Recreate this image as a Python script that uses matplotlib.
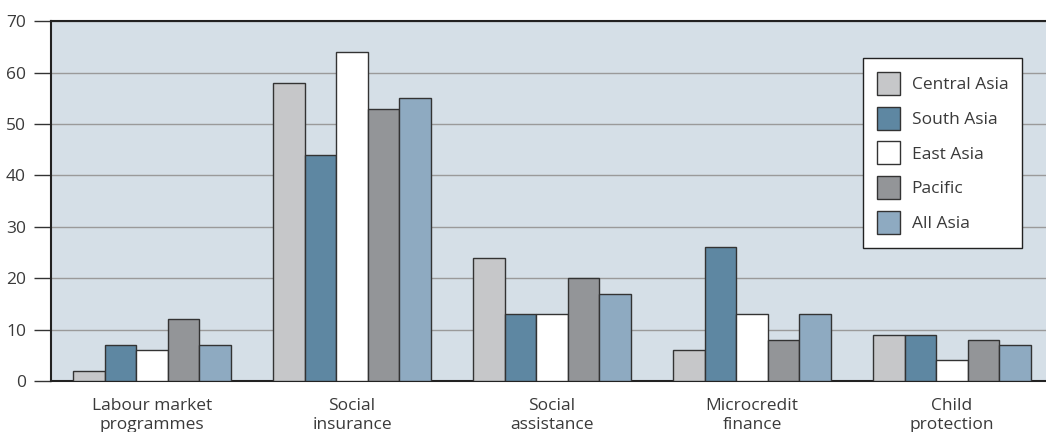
import numpy as np
import matplotlib
matplotlib.use("Agg")
from matplotlib import pyplot as plt

plt.rcParams['font.family'] = ['Open Sans', 'DejaVu Sans']

categories = ["Labour market\nprogrammes", "Social\ninsurance", "Social\nassistance",
              "Microcredit\nfinance", "Child\nprotection"]
regions = ["Central Asia", "South Asia", "East Asia", "Pacific", "All Asia"]
central_asia = [2, 58, 24, 6, 9]
south_asia = [7, 44, 13, 26, 9]
east_asia = [6, 64, 13, 13, 4]
pacific = [12, 53, 20, 8, 8]
all_asia = [7, 55, 17, 13, 7]

series = [central_asia, south_asia, east_asia, pacific, all_asia]
colors = ["#c6c7c9", "#5e87a2", "#ffffff", "#939598", "#8eaac1"]
txt = "#3a3a3a"

fig = plt.figure(figsize=(10.46, 4.32), dpi=100)
ax = fig.add_axes([0.0488, 0.118, 0.9512, 0.833])
ax.set_facecolor("#d5dfe7")

x = np.arange(len(categories))
w = 0.158
for i, (vals, c, name) in enumerate(zip(series, colors, regions)):
    ax.bar(x + (i - 2) * w, vals, w, color=c, edgecolor="#333333",
           linewidth=1, label=name, zorder=3)

ax.set_ylim(0, 70)
ax.set_xlim(-0.505, 4.47)
ax.set_yticks(range(0, 71, 10))
ax.yaxis.grid(True, color="#9a9a9a", linewidth=1, zorder=0)
ax.set_xticks(x)
ax.set_xticklabels(categories, fontsize=12.5, color=txt, linespacing=1.3)
ax.tick_params(axis="x", length=0, pad=12)
ax.tick_params(axis="y", length=12, width=1, color="#333333", labelsize=12.5,
               labelcolor=txt, pad=6)

ax.spines["right"].set_visible(False)
for s in ["left", "top", "bottom"]:
    ax.spines[s].set_color("#222222")
    ax.spines[s].set_linewidth(1.5)

leg = ax.legend(loc="upper right", bbox_to_anchor=(0.976, 0.897), frameon=True,
                fancybox=False, edgecolor="#222222", fontsize=12.5, framealpha=1,
                handlelength=1.35, handleheight=1.65, labelspacing=0.68,
                borderpad=0.8, handletextpad=0.65, borderaxespad=0)
leg.get_frame().set_linewidth(1)
for t in leg.get_texts():
    t.set_color(txt)

fig.savefig("out.png", dpi=100)
